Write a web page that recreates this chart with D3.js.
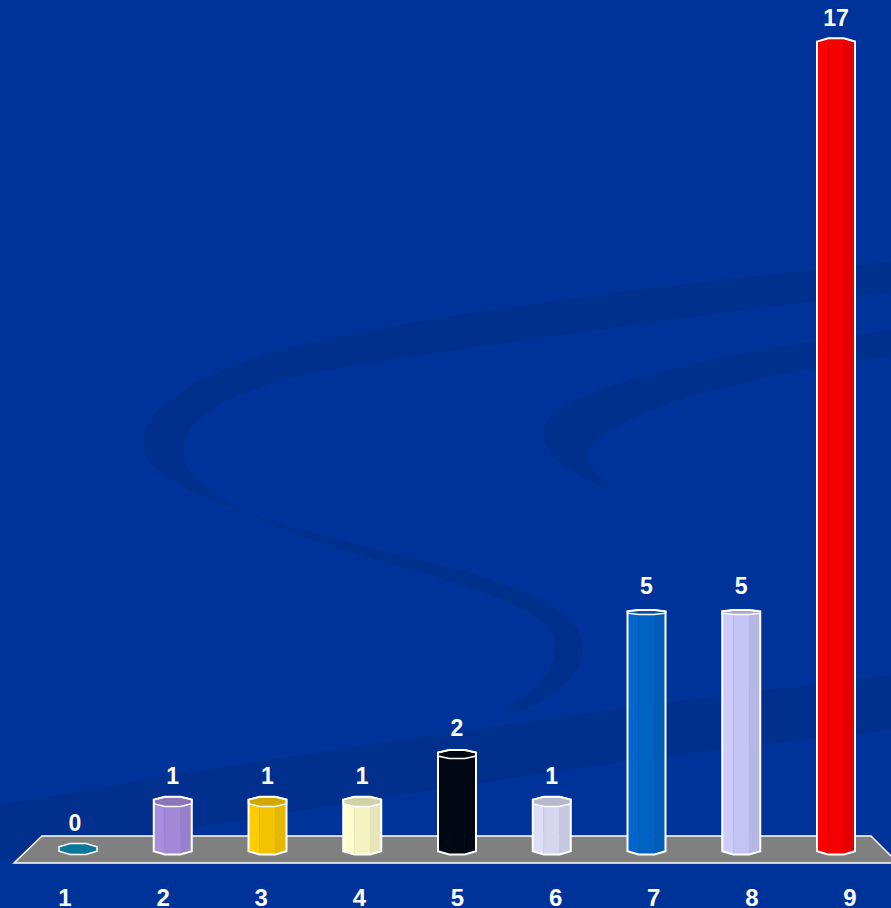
<!DOCTYPE html>
<meta charset="utf-8">
<style>
    body{
        margin: 0;
        background-color: #003399;
    }
    svg{
        display: block;
    }
    text {
        font-family: "Liberation Sans", Arial, sans-serif;
        font-weight: bold;
        fill: white;
    }
</style>
<svg width="891" height="908"></svg>
<script src="https://d3js.org/d3.v7.min.js"></script>
<script>
    // chart data
    var categories = ["1", "2", "3", "4", "5", "6", "7", "8", "9"];
    var values = [0, 1, 1, 1, 2, 1, 5, 5, 17];
    var barColors = ["#08789c", "#a98ee0", "#ffcc00", "#ffffcc", "#000814", "#dedef8", "#0066cc", "#ccccff", "#ff0000"];

    var svg = d3.select("svg"),
        width = +svg.attr("width"),
        height = +svg.attr("height");

    svg.append("rect")
        .attr("width", width)
        .attr("height", height)
        .attr("fill", "#003399");

    // background swirls (decoration only)
    var deco = svg.append("g").attr("fill", "#002f8a").attr("opacity", 0.75);
    deco.append("path")
        .attr("d", "M 891,262 C 700,280 450,310 300,345 C 180,375 130,420 145,455 C 170,500 300,530 440,565 C 540,590 590,620 582,655 C 575,685 545,700 520,712 L 500,712 C 530,695 560,670 555,640 C 545,610 480,590 420,572 C 300,540 200,505 185,460 C 175,425 220,390 330,370 C 480,345 700,315 891,292 Z");
    deco.append("path")
        .attr("d", "M 891,330 C 700,355 560,390 545,425 C 535,455 580,480 615,490 C 590,470 580,455 592,445 C 620,410 750,375 891,356 Z");
    deco.append("path")
        .attr("d", "M 0,805 C 250,760 550,715 891,675 L 891,730 C 600,760 300,810 0,860 Z");

    // scales
    var x = d3.scalePoint().domain(categories).range([78, 836]);
    var xLabel = d3.scalePoint().domain(categories).range([65, 850]);
    var y = d3.scaleLinear().domain([0, 17]).range([849, 44]);

    var baseY = y(0),
        hb = 19,       // half bar width
        k = 0.414;     // octagon corner ratio

    // perspective: flattening of the cap depends on height (eye level ~456)
    function capRy(yy) {
        return 5.5 * (yy - 456) / (baseY - 456);
    }

    // floor
    svg.append("path")
        .attr("d", "M 42,836 L 871,836 L 898,863 L 14,863 Z")
        .attr("fill", "#808080")
        .attr("stroke", "white")
        .attr("stroke-width", 1.5);

    var bars = svg.append("g").selectAll("g")
        .data(values.map(function (v, i) { return {cat: categories[i], value: v, color: barColors[i]}; }))
        .enter().append("g");

    bars.each(function (d) {
        var g = d3.select(this),
            cx = x(d.cat),
            yT = y(d.value),
            rT = capRy(yT),
            rB = capRy(baseY),
            c = d3.color(d.color);

        if (d.value > 0) {
            var facets = [
                [cx - hb, cx - k * hb, c.formatHex()],
                [cx - k * hb, cx + k * hb, c.darker(0.12).formatHex()],
                [cx + k * hb, cx + hb, c.darker(0.3).formatHex()]
            ];
            // outer edges sit at k of the cap depth, inner edges at full depth
            var fm = function (xx) { return Math.abs(xx - cx) > hb * 0.9 ? k : 1; };
            facets.forEach(function (f) {
                g.append("path")
                    .attr("d", "M" + f[0] + "," + (yT + rT * fm(f[0])) +
                        "L" + f[0] + "," + (baseY + rB * fm(f[0])) +
                        "L" + f[1] + "," + (baseY + rB * fm(f[1])) +
                        "L" + f[1] + "," + (yT + rT * fm(f[1])) + "Z")
                    .attr("fill", f[2])
                    .attr("stroke", c.darker(0.2).formatHex())
                    .attr("stroke-width", 0.6);
            });

            // cap, only visible when top is below eye level
            if (rT > 0) {
                g.append("path")
                    .attr("d", octagon(cx, yT, rT))
                    .attr("fill", c.darker(0.55).formatHex())
                    .attr("stroke", "white")
                    .attr("stroke-width", 1.5);
            }

            // silhouette outline
            var a = Math.abs(rT);
            g.append("path")
                .attr("d", "M" + (cx - hb) + "," + (yT - a * k) +
                    "L" + (cx - k * hb) + "," + (yT - a) +
                    "L" + (cx + k * hb) + "," + (yT - a) +
                    "L" + (cx + hb) + "," + (yT - a * k) +
                    "L" + (cx + hb) + "," + (baseY + rB * k) +
                    "L" + (cx + k * hb) + "," + (baseY + rB) +
                    "L" + (cx - k * hb) + "," + (baseY + rB) +
                    "L" + (cx - hb) + "," + (baseY + rB * k) + "Z")
                .attr("fill", "none")
                .attr("stroke", "white")
                .attr("stroke-width", 2);
        } else {
            g.append("path")
                .attr("d", octagon(cx, yT, rB))
                .attr("fill", d.color)
                .attr("stroke", "white")
                .attr("stroke-width", 1.5);
        }

        // value label
        g.append("text")
            .attr("x", cx - (d.value === 0 ? 3 : 0))
            .attr("y", yT - 18)
            .attr("text-anchor", "middle")
            .style("font-size", "23px")
            .text(d.value);
    });

    function octagon(cx, cy, r) {
        return "M" + (cx - hb) + "," + (cy - r * k) +
            "L" + (cx - k * hb) + "," + (cy - r) +
            "L" + (cx + k * hb) + "," + (cy - r) +
            "L" + (cx + hb) + "," + (cy - r * k) +
            "L" + (cx + hb) + "," + (cy + r * k) +
            "L" + (cx + k * hb) + "," + (cy + r) +
            "L" + (cx - k * hb) + "," + (cy + r) +
            "L" + (cx - hb) + "," + (cy + r * k) + "Z";
    }

    // category labels
    svg.append("g").selectAll("text")
        .data(categories)
        .enter().append("text")
        .attr("x", function (d) { return xLabel(d); })
        .attr("y", 906)
        .attr("text-anchor", "middle")
        .style("font-size", "24px")
        .text(function (d) { return d; });
</script>
